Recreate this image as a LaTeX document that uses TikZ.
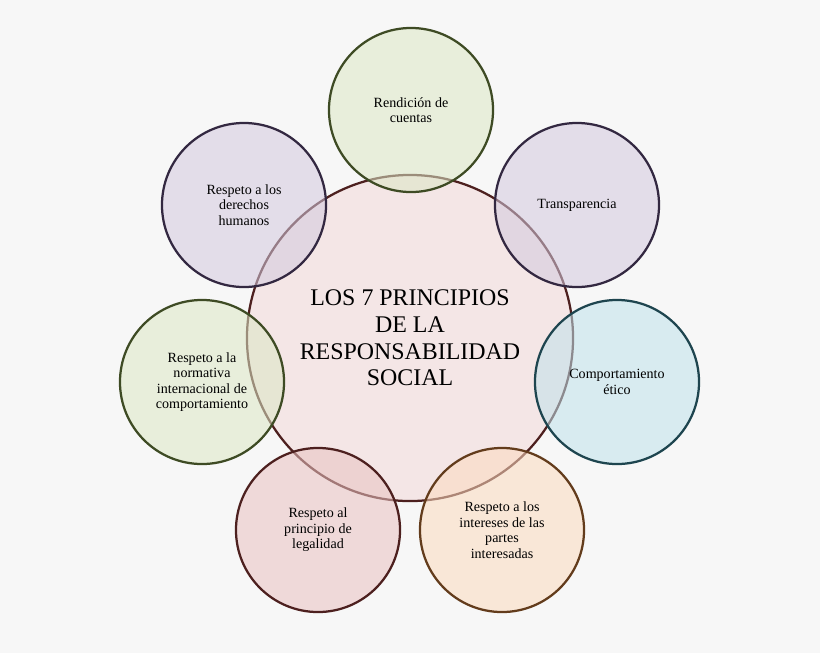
\documentclass[tikz,border=0pt]{standalone}
\usepackage{fontspec}
\setmainfont{Liberation Serif}
\definecolor{bg-color}{RGB}{247,247,247}
\definecolor{green-color}{RGB}{155,187,89}
\definecolor{purple-color}{RGB}{128,100,162}
\definecolor{blue-color}{RGB}{75,172,198}
\definecolor{orange-color}{RGB}{247,150,70}
\definecolor{red-color}{RGB}{192,80,77}
\tikzset{
  bubble/.style={circle, draw=#1!40!black, line width=1.6pt, fill=#1!35, fill opacity=0.55, text opacity=1,
    minimum size=4.1cm, align=center, font=\fontsize{10}{11}\selectfont},
  core/.style={circle, draw=red-color!40!black, line width=1.6pt, fill=red-color!18, fill opacity=0.7, text opacity=1,
    minimum size=8.15cm, align=center, font=\fontsize{17}{19}\selectfont}
}
\begin{document}
\begin{tikzpicture}[x=0.025cm, y=-0.025cm]
\fill[bg-color] (0,0) rectangle (820,653);
\useasboundingbox (0,0) rectangle (820,653);

\node (center) [core] at (410,338) {LOS 7 PRINCIPIOS\\DE LA\\RESPONSABILIDAD\\SOCIAL};

\node (rendicion) [bubble=green-color] at (411,110) {Rendición de\\cuentas};
\node (transparencia) [bubble=purple-color] at (577,205) {Transparencia};
\node (etico) [bubble=blue-color] at (617,382) {Comportamiento\\ético};
\node (intereses) [bubble=orange-color] at (502,530) {Respeto a los\\intereses de las\\partes\\interesadas};
\node (legalidad) [bubble=red-color] at (318,530) {Respeto al\\principio de\\legalidad};
\node (normativa) [bubble=green-color] at (202,382) {Respeto a la\\normativa\\internacional de\\comportamiento};
\node (derechos) [bubble=purple-color] at (244,205) {Respeto a los\\derechos\\humanos};
\end{tikzpicture}
\end{document}
